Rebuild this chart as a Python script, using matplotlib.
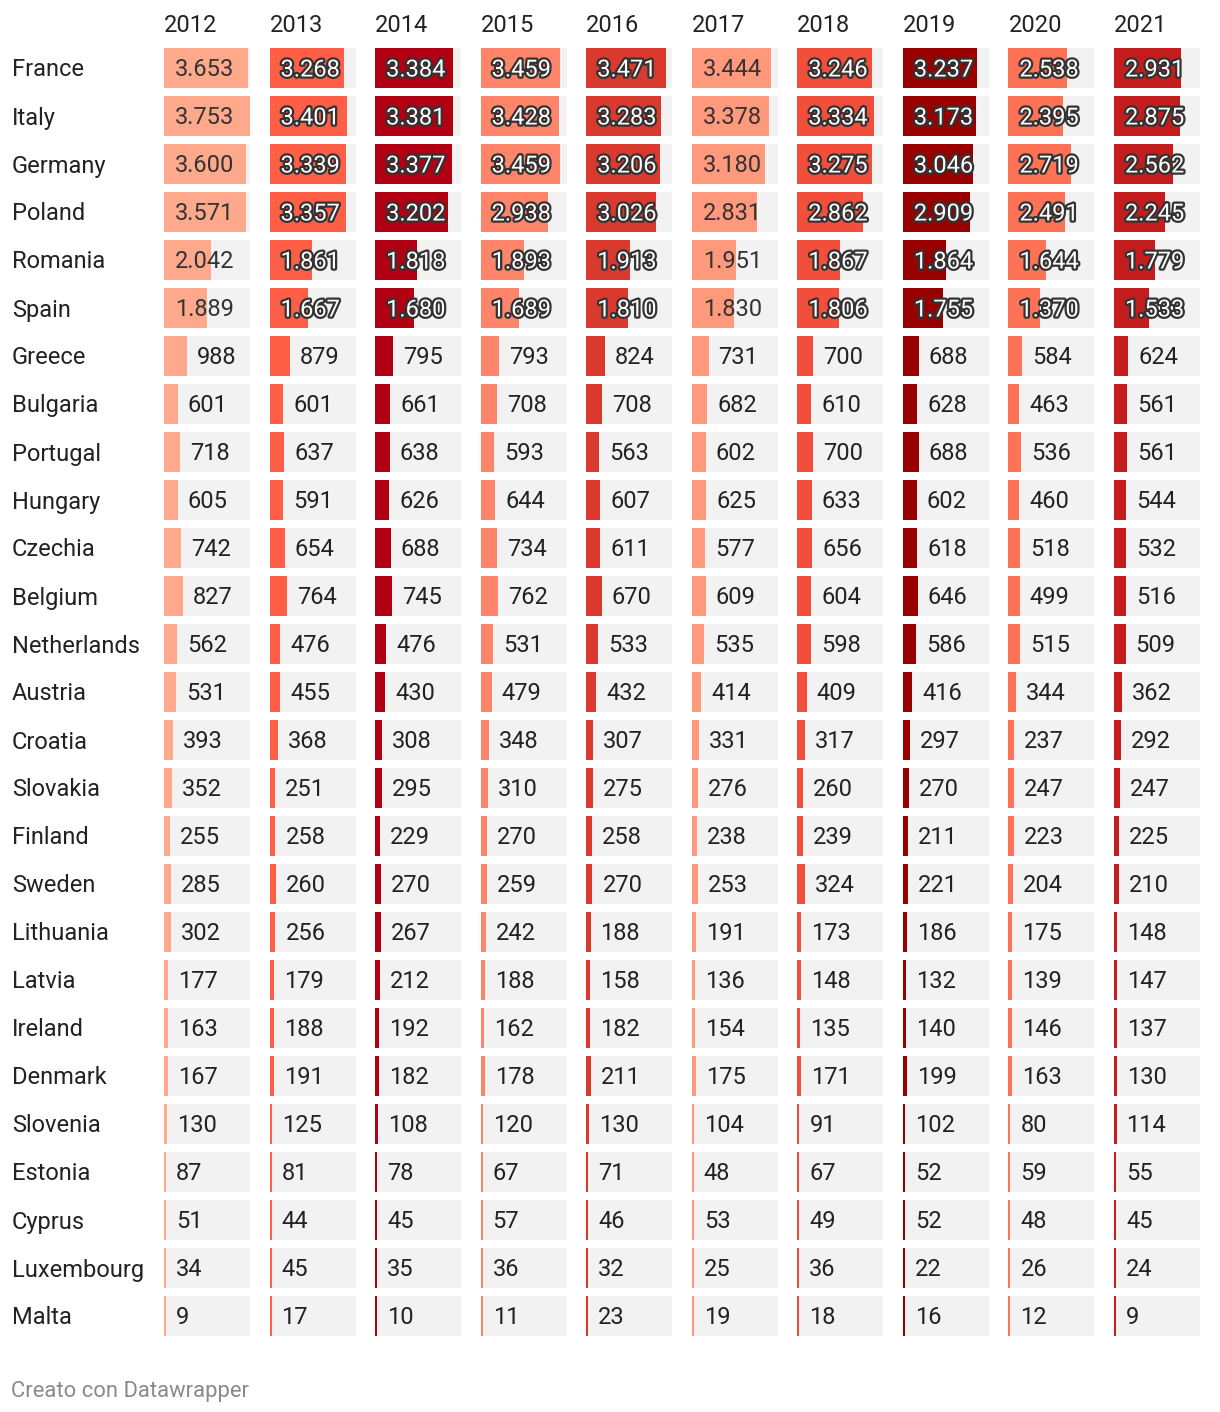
import numpy as np
import matplotlib
matplotlib.use("Agg")
import matplotlib.pyplot as plt
import matplotlib.patheffects as pe
from matplotlib.transforms import offset_copy

plt.rcParams['font.family'] = ['Roboto', 'DejaVu Sans']

countries = ["France", "Italy", "Germany", "Poland", "Romania", "Spain", "Greece",
             "Bulgaria", "Portugal", "Hungary", "Czechia", "Belgium", "Netherlands",
             "Austria", "Croatia", "Slovakia", "Finland", "Sweden", "Lithuania",
             "Latvia", "Ireland", "Denmark", "Slovenia", "Estonia", "Cyprus",
             "Luxembourg", "Malta"]
years = ["2012", "2013", "2014", "2015", "2016", "2017", "2018", "2019", "2020", "2021"]

v2012 = [3653, 3753, 3600, 3571, 2042, 1889, 988, 601, 718, 605, 742, 827, 562, 531, 393, 352, 255, 285, 302, 177, 163, 167, 130, 87, 51, 34, 9]
v2013 = [3268, 3401, 3339, 3357, 1861, 1667, 879, 601, 637, 591, 654, 764, 476, 455, 368, 251, 258, 260, 256, 179, 188, 191, 125, 81, 44, 45, 17]
v2014 = [3384, 3381, 3377, 3202, 1818, 1680, 795, 661, 638, 626, 688, 745, 476, 430, 308, 295, 229, 270, 267, 212, 192, 182, 108, 78, 45, 35, 10]
v2015 = [3459, 3428, 3459, 2938, 1893, 1689, 793, 708, 593, 644, 734, 762, 531, 479, 348, 310, 270, 259, 242, 188, 162, 178, 120, 67, 57, 36, 11]
v2016 = [3471, 3283, 3206, 3026, 1913, 1810, 824, 708, 563, 607, 611, 670, 533, 432, 307, 275, 258, 270, 188, 158, 182, 211, 130, 71, 46, 32, 23]
v2017 = [3444, 3378, 3180, 2831, 1951, 1830, 731, 682, 602, 625, 577, 609, 535, 414, 331, 276, 238, 253, 191, 136, 154, 175, 104, 48, 53, 25, 19]
v2018 = [3246, 3334, 3275, 2862, 1867, 1806, 700, 610, 700, 633, 656, 604, 598, 409, 317, 260, 239, 324, 173, 148, 135, 171, 91, 67, 49, 36, 18]
v2019 = [3237, 3173, 3046, 2909, 1864, 1755, 688, 628, 688, 602, 618, 646, 586, 416, 297, 270, 211, 221, 186, 132, 140, 199, 102, 52, 52, 22, 16]
v2020 = [2538, 2395, 2719, 2491, 1644, 1370, 584, 463, 536, 460, 518, 499, 515, 344, 237, 247, 223, 204, 175, 139, 146, 163, 80, 59, 48, 26, 12]
v2021 = [2931, 2875, 2562, 2245, 1779, 1533, 624, 561, 561, 544, 532, 516, 509, 362, 292, 247, 225, 210, 148, 147, 137, 130, 114, 55, 45, 24, 9]

series = [v2012, v2013, v2014, v2015, v2016, v2017, v2018, v2019, v2020, v2021]
bar_colors = ["#fea98b", "#ff5f47", "#b00012", "#fe8569", "#da3a2d",
              "#fe997b", "#f24e3c", "#980000", "#fe7255", "#c41d1d"]
plain_label_years = {"2012", "2017"}

W, H = 1220, 1412
fig = plt.figure(figsize=(W / 100, H / 100), dpi=100)
fig.patch.set_facecolor("white")

vmax = max(max(s) for s in series)
n = len(countries)
pitch = 48
row0_center = 68
top_px = row0_center - pitch / 2
bot_px = row0_center + pitch * (n - 0.5)
col_starts = [164 + i * 105.55 for i in range(len(years))]
cell_w = 86
fs = 17
base = 8.5  # baseline offset below row center (px)

for ci, (yr, vals, col) in enumerate(zip(years, series, bar_colors)):
    ax = fig.add_axes([col_starts[ci] / W, 1 - bot_px / H, cell_w / W, (bot_px - top_px) / H])
    ax.set_xlim(0, vmax)
    ax.set_ylim(n - 0.5, -0.5)
    ax.axis("off")
    ypos = np.arange(n)
    vals = np.array(vals, dtype=float)
    ax.barh(ypos, [vmax] * n, height=40 / 48, color="#f2f2f2", left=0, zorder=1)
    shown = np.maximum(vals, vmax * 2 / cell_w)
    ax.barh(ypos, shown, height=40 / 48, color=col, left=0, zorder=2)
    inside_tr = offset_copy(ax.transData, fig=fig, x=11, y=-base, units="dots")
    outside_tr = offset_copy(ax.transData, fig=fig, x=10, y=-base, units="dots")
    for yi, v, s in zip(ypos, vals, shown):
        label = f"{int(v):,}".replace(",", ".")
        if v / vmax > 0.3:
            if yr in plain_label_years:
                ax.text(0, yi, label, transform=inside_tr, ha="left", va="baseline",
                        fontsize=fs, color="#333333", zorder=3)
            else:
                ax.text(0, yi, label, transform=inside_tr, ha="left", va="baseline",
                        fontsize=fs, color="white", zorder=3,
                        path_effects=[pe.withStroke(linewidth=3.2, foreground="#333333")])
        else:
            ax.text(s, yi, label, transform=outside_tr, ha="left", va="baseline",
                    fontsize=fs, color="#222222", zorder=3)
    fig.text(col_starts[ci] / W, 1 - (23 + base) / H, yr, ha="left", va="baseline",
             fontsize=fs, color="#222222")

for i, c in enumerate(countries):
    fig.text(12 / W, 1 - (row0_center + i * pitch + base) / H, c, ha="left", va="baseline",
             fontsize=fs, color="#222222")

fig.text(11 / W, 1 - (1389 + 7.8) / H, "Creato con Datawrapper", ha="left", va="baseline",
         fontsize=15.8, color="#8a8a8a")

fig.savefig("out.png", dpi=100, facecolor="white")
